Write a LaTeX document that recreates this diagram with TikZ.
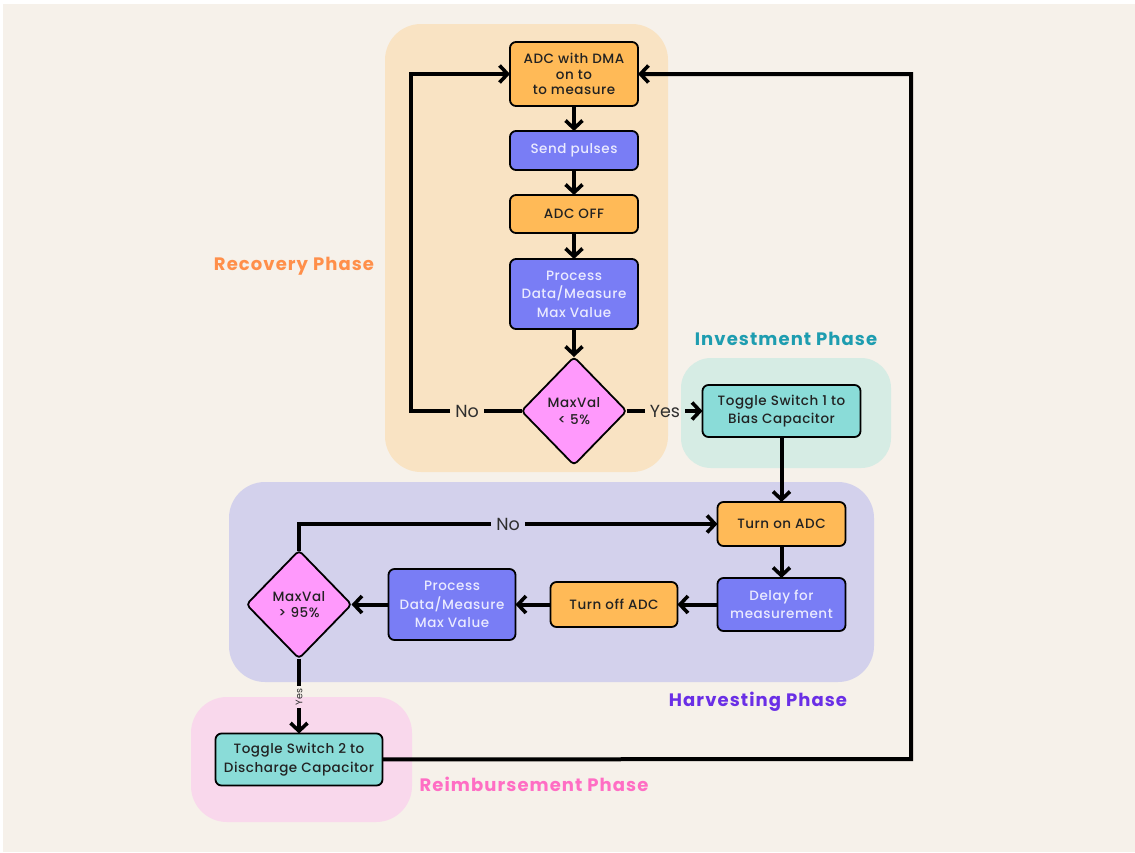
\documentclass[tikz,border=0pt]{standalone}
\usepackage{fontspec}
\setmainfont{Poppins}
\newfontfamily\boxfont[LetterSpace=4]{Poppins Medium}
\newfontfamily\phasefont[LetterSpace=6]{Poppins}
\usepackage{tikz}
\usetikzlibrary{arrows.meta,positioning,shapes.geometric}
\usepackage{xcolor}
\definecolor{pagecream}{HTML}{F6F1EA}
\definecolor{recbg}{HTML}{F9E3C3}
\definecolor{invbg}{HTML}{D6ECE4}
\definecolor{harbg}{HTML}{D3D1EC}
\definecolor{reibg}{HTML}{F9D8EC}
\definecolor{boxorange}{HTML}{FFBA57}
\definecolor{boxblue}{HTML}{797DF5}
\definecolor{boxteal}{HTML}{8ADCD8}
\definecolor{boxpink}{HTML}{FF99FC}
\definecolor{bluetext}{HTML}{EAEAFF}
\definecolor{darktext}{HTML}{222222}
\definecolor{labelgray}{HTML}{2E2E2E}
\definecolor{recfg}{HTML}{FF8F4A}
\definecolor{invfg}{HTML}{1E9DB0}
\definecolor{harfg}{HTML}{6A2FE6}
\definecolor{reifg}{HTML}{FF6EC4}

\begin{document}
\begin{tikzpicture}[
  x=1pt, y=-1pt,
  box/.style={draw=black, line width=1.8pt, outer sep=0pt, rounded corners=6pt, align=center, minimum width=128pt, inner sep=2pt, text=darktext, font=\boxfont\fontsize{13.5}{18.5}\selectfont},
  orangebox/.style={box, fill=boxorange},
  bluebox/.style={box, fill=boxblue, text=bluetext},
  tealbox/.style={box, fill=boxteal},
  decision/.style={diamond, draw=black, line width=1.8pt, outer sep=0pt, rounded corners=4pt, fill=boxpink, aspect=1, inner sep=0pt, minimum width=105pt, minimum height=108pt, align=center, text=darktext, font=\boxfont\fontsize{13.5}{16.5}\selectfont},
  phase/.style={font=\phasefont\bfseries\fontsize{18}{20}\selectfont},
  lbl/.style={text=labelgray, inner sep=5pt, font=\fontsize{17.5}{18}\selectfont},
  line/.style={line width=4pt},
  arrow/.style={line, -{Straight Barb[length=8pt, width=17pt, line width=3.6pt]}}
]
\useasboundingbox (0,0) rectangle (1135,852);
\fill[white] (0,0) rectangle (1135,852);
\fill[pagecream] (3,4) rectangle (1135,852);
\fill[recbg, rounded corners=36pt] (385,24) rectangle (668,472);
\fill[invbg, rounded corners=30pt] (681,358) rectangle (891,468);
\fill[harbg, rounded corners=36pt] (229,482) rectangle (874,682);
\fill[reibg, rounded corners=36pt] (191,697) rectangle (412,822);

\node[orangebox, minimum height=64pt, font=\boxfont\fontsize{13.5}{15.5}\selectfont] (a) at (574,74) {ADC with DMA\\on to\\to measure};
\node[bluebox, minimum height=39pt, below=25pt of a] (b) {Send pulses};
\node[orangebox, minimum height=38pt, below=25pt of b] (c) {ADC OFF};
\node[bluebox, minimum height=70pt, below=26pt of c] (d) {Process\\Data/Measure\\Max Value};
\node[decision, below=28pt of d] (q1) {MaxVal\\< 5\%};
\node[tealbox, minimum width=158pt, minimum height=52pt, right=76pt of q1] (e) {Toggle Switch 1 to\\Bias Capacitor};
\node[orangebox, minimum height=44pt, below=65pt of e] (f) {Turn on ADC};
\node[bluebox, minimum height=53pt, below=32pt of f] (g) {Delay for\\measurement};
\node[orangebox, minimum width=127pt, minimum height=45pt, left=40pt of g] (h) {Turn off ADC};
\node[bluebox, minimum width=127pt, minimum height=71pt, left=35pt of h] (i) {Process\\Data/Measure\\Max Value};
\node[decision, left=37pt of i] (q2) {MaxVal\\> 95\%};
\node[tealbox, minimum width=167pt, minimum height=52pt, below=75pt of q2] (j) {Toggle Switch 2 to\\Discharge Capacitor};

\node[lbl] (no1) at (467,411) {No};
\node[lbl] (yes1) at (665,411) {Yes};
\node[lbl] (no2) at (508,524) {No};
\node[text=labelgray, rotate=90, inner sep=3pt, font=\fontsize{9.5}{10}\selectfont] (yes2) at (299,697) {Yes};
\coordinate (lft) at (411,411);
\coordinate (rgt) at (911,759);

\node[phase, text=recfg] (recl) at (294,266) {Recovery Phase};
\node[phase, text=invfg] (invl) at (786,339) {Investment Phase};
\node[phase, text=harfg] (harl) at (758,702) {Harvesting Phase};
\node[phase, text=reifg] (reil) at (534,784) {Reimbursement Phase};

\draw[arrow] (a) -- (b);
\draw[arrow] (b) -- (c);
\draw[arrow] (c) -- (d);
\draw[arrow] (d) -- (q1);
\draw[line] (q1) -- (no1);
\draw[arrow] (no1) -- (lft) |- (a);
\draw[line] (q1) -- (yes1);
\draw[arrow] (yes1) -- (e);
\draw[arrow] (e) -- (f);
\draw[arrow] (f) -- (g);
\draw[arrow] (g) -- (h);
\draw[arrow] (h) -- (i);
\draw[arrow] (i) -- (q2);
\draw[line] (q2) |- (no2);
\draw[arrow] (no2) -- (f);
\draw[line] (q2) -- (yes2);
\draw[arrow] (yes2) -- (j);
\draw[arrow] (j) -- (rgt) |- (a);
\end{tikzpicture}
\end{document}
